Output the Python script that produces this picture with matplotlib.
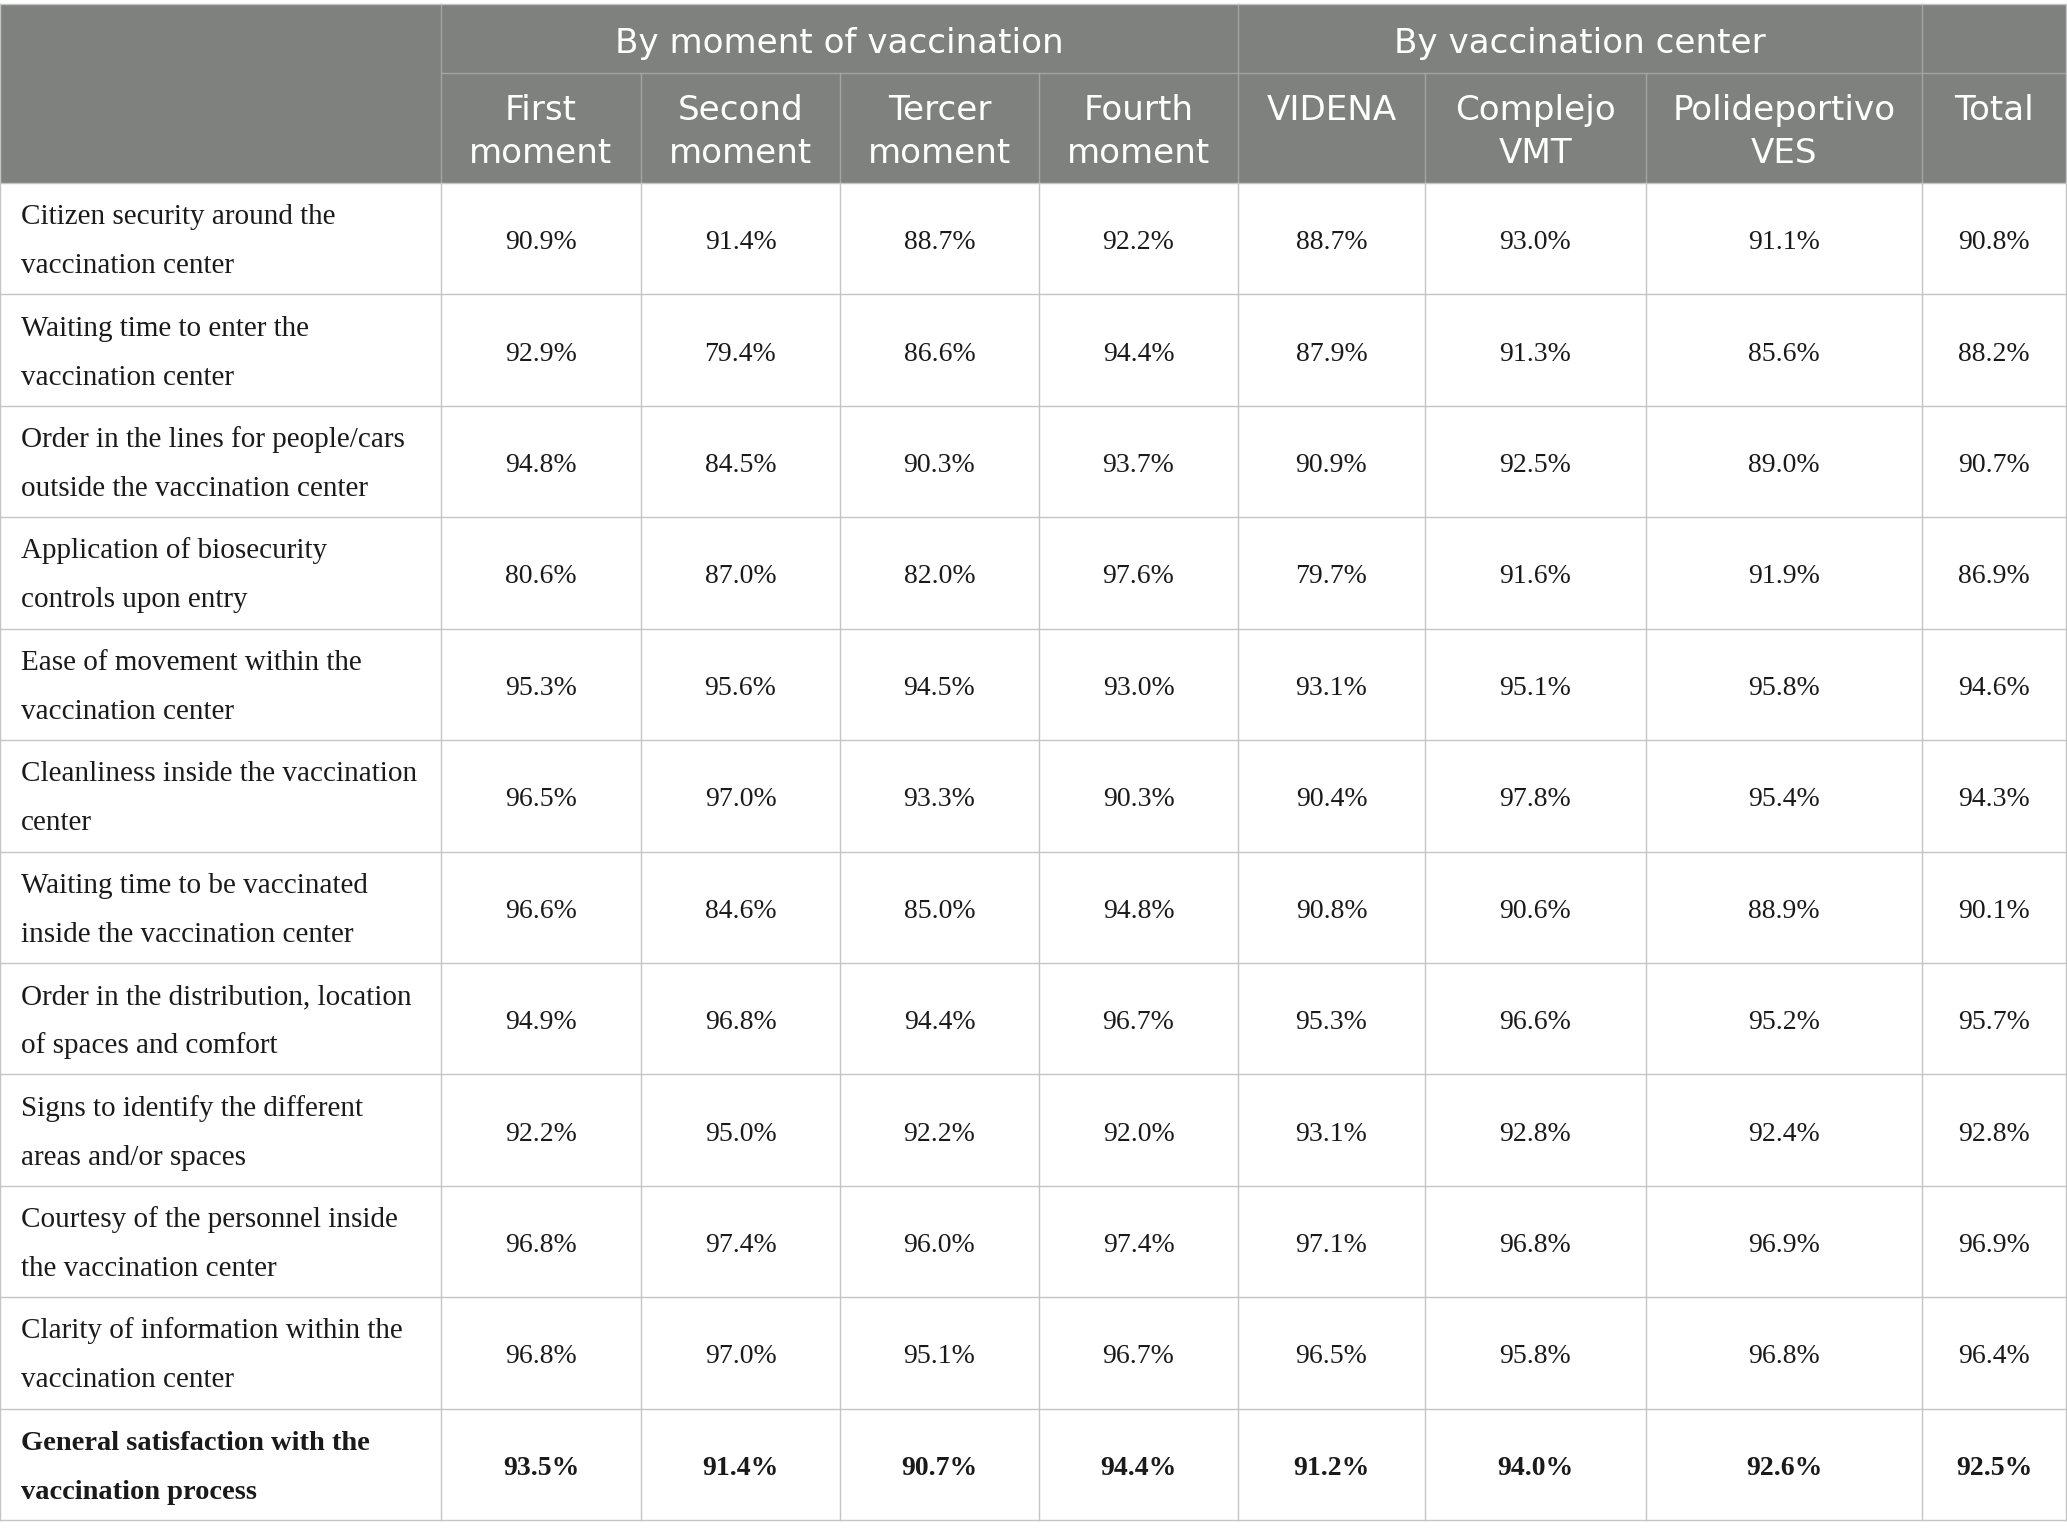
import matplotlib.pyplot as plt

# satisfaction items (rows)
items = [
    "Citizen security around the\nvaccination center",
    "Waiting time to enter the\nvaccination center",
    "Order in the lines for people/cars\noutside the vaccination center",
    "Application of biosecurity\ncontrols upon entry",
    "Ease of movement within the\nvaccination center",
    "Cleanliness inside the vaccination\ncenter",
    "Waiting time to be vaccinated\ninside the vaccination center",
    "Order in the distribution, location\nof spaces and comfort",
    "Signs to identify the different\nareas and/or spaces",
    "Courtesy of the personnel inside\nthe vaccination center",
    "Clarity of information within the\nvaccination center",
    "General satisfaction with the\nvaccination process",
]

col_headers = ["First\nmoment", "Second\nmoment", "Tercer\nmoment", "Fourth\nmoment",
               "VIDENA", "Complejo\nVMT", "Polideportivo\nVES", "Total"]
groups = [("By moment of vaccination", 1, 4), ("By vaccination center", 5, 7), ("", 8, 8)]

first = [90.9, 92.9, 94.8, 80.6, 95.3, 96.5, 96.6, 94.9, 92.2, 96.8, 96.8, 93.5]
second = [91.4, 79.4, 84.5, 87.0, 95.6, 97.0, 84.6, 96.8, 95.0, 97.4, 97.0, 91.4]
tercer = [88.7, 86.6, 90.3, 82.0, 94.5, 93.3, 85.0, 94.4, 92.2, 96.0, 95.1, 90.7]
fourth = [92.2, 94.4, 93.7, 97.6, 93.0, 90.3, 94.8, 96.7, 92.0, 97.4, 96.7, 94.4]
videna = [88.7, 87.9, 90.9, 79.7, 93.1, 90.4, 90.8, 95.3, 93.1, 97.1, 96.5, 91.2]
vmt = [93.0, 91.3, 92.5, 91.6, 95.1, 97.8, 90.6, 96.6, 92.8, 96.8, 95.8, 94.0]
ves = [91.1, 85.6, 89.0, 91.9, 95.8, 95.4, 88.9, 95.2, 92.4, 96.9, 96.8, 92.6]
total = [90.8, 88.2, 90.7, 86.9, 94.6, 94.3, 90.1, 95.7, 92.8, 96.9, 96.4, 92.5]
columns = [first, second, tercer, fourth, videna, vmt, ves, total]

# layout in pixels
W, H = 2067, 1538
col_x = [0, 441, 641, 840, 1039, 1238, 1425, 1646, 1922, 2066]
top, mid, head_bot, bot = 4, 73, 183, 1520
n = len(items)
row_h = (bot - head_bot) / n
row_y = [head_bot + i * row_h for i in range(n + 1)]

hdr_bg = "#7f817f"
hdr_line = "#a3a5a3"
grid = "#c4c4c4"
txt = "#1a1a1a"

fig = plt.figure(figsize=(W / 100, H / 100), dpi=100)
ax = fig.add_axes([0, 0, 1, 1])
ax.set_xlim(0, W)
ax.set_ylim(H, 0)
ax.axis("off")

# header background
ax.fill_between([col_x[0], col_x[-1]], top, head_bot, color=hdr_bg, lw=0)

# header lines
ax.plot([col_x[1], col_x[-1]], [mid, mid], color=hdr_line, lw=1.0)
for name, a, b in groups:
    ax.plot([col_x[a], col_x[a]], [top, head_bot], color=hdr_line, lw=1.0)
for i in [2, 3, 4, 6, 7]:
    ax.plot([col_x[i], col_x[i]], [mid, head_bot], color=hdr_line, lw=1.0)
ax.plot([col_x[0], col_x[-1]], [top, top], color=grid, lw=1.0)

# header text
hfont = dict(family=["DejaVu Sans"], fontsize=24.6, color="white")
for name, a, b in groups:
    if name:
        ax.text((col_x[a] + col_x[b + 1]) / 2, 53, name, ha="center", va="baseline", **hfont)
for j, h in enumerate(col_headers):
    cx = (col_x[j + 1] + col_x[j + 2]) / 2
    for k, line in enumerate(h.split("\n")):
        ax.text(cx, 120 + 43 * k, line, ha="center", va="baseline", **hfont)

# body grid
for y in row_y:
    ax.plot([col_x[0], col_x[-1]], [y, y], color=grid, lw=1.0)
for x in col_x:
    ax.plot([x, x], [head_bot, bot], color=grid, lw=1.0)
ax.plot([0, 0], [top, head_bot], color=grid, lw=1.0)
ax.plot([col_x[-1], col_x[-1]], [top, head_bot], color=grid, lw=1.0)

# body text
serif = ["Liberation Serif", "DejaVu Serif"]
for i, label in enumerate(items):
    c = (row_y[i] + row_y[i + 1]) / 2
    bold = i == n - 1
    weight = "bold" if bold else "normal"
    for k, line in enumerate(label.split("\n")):
        ax.text(21, c - 14.5 + 49 * k, line, ha="left", va="baseline",
                family=serif, fontsize=20.5 if bold else 21, color=txt, fontweight=weight)
    for j, col in enumerate(columns):
        cx = (col_x[j + 1] + col_x[j + 2]) / 2
        ax.text(cx, c + 10.5, f"{col[i]:.1f}%", ha="center", va="baseline",
                family=serif, fontsize=20, color=txt, fontweight=weight)

fig.savefig("out.png", dpi=100)
